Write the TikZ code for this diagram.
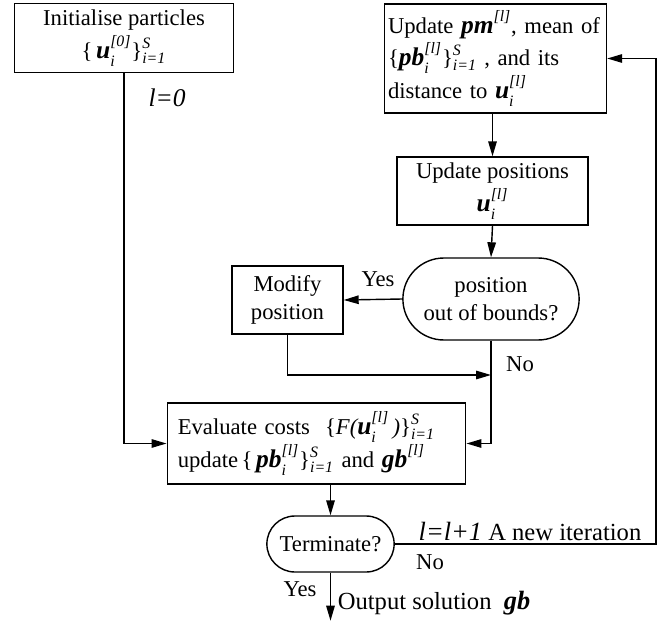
\documentclass[tikz,border=0pt]{standalone}
\usepackage{amsmath}
\usepackage{fontspec}
\setmainfont{Liberation Serif}
\usetikzlibrary{arrows.meta,shapes.misc}
\newcommand{\bv}[1]{\text{\fontsize{14.5}{15}\selectfont\bfseries\itshape #1\rule[-4pt]{0pt}{14pt}}}
\newcommand{\tv}[1]{\text{\itshape #1}}
\tikzset{
  procBox/.style={draw, line width=0.8pt, inner sep=2pt, align=center},
  roundBox/.style={draw, line width=0.8pt, rounded rectangle, align=center},
  flowArrow/.style={line width=0.8pt, -{Triangle[length=3mm,width=1.7mm]}},
  flowLine/.style={line width=0.8pt},
  bigLabel/.style={font=\fontsize{14}{16}\selectfont}
}

\begin{document}
\begin{tikzpicture}[x=0.02cm, y=-0.02cm, font=\fontsize{12.9}{16}\selectfont]
    \useasboundingbox (0,0) rectangle (661,621);
    % boxes
    \node[procBox, minimum width=4.38cm, minimum height=1.38cm] (initBox) at (124,38)
        {Initialise particles\\[3pt] $\text{\{}\,\bv{u}_{\tv{i}}^{\tv{[0]}}\text{\}}_{\tv{i=1}}^{\tv{S}}$};
    \node[procBox, align=left, text width=4.3cm, minimum height=2.18cm] (updMean) at (495.5,58.5)
        {Update $\bv{pm}^{\tv{[l]}}$, mean of\\ $\text{\{}\bv{pb}_{\tv{i}}^{\tv{[l]}}\text{\}}_{\tv{i=1}}^{\tv{S}}$ , and its\\ distance to $\bv{u}_{\tv{i}}^{\tv{[l]}}$};
    \node[procBox, minimum width=3.82cm, minimum height=1.36cm] (updPos) at (492.5,191)
        {Update positions\\[3pt] $\bv{u}_{\tv{i}}^{\tv{[l]}}$};
    \node[roundBox, minimum width=3.76cm, minimum height=1.64cm] (outBounds) at (491,299)
        {position\\ out of bounds?};
    \node[procBox, minimum width=2.22cm, minimum height=1.36cm] (modPos) at (287.5,300)
        {Modify\\ position};
    \node[procBox, align=left, text width=5.55cm, inner xsep=6pt, minimum height=1.62cm] (evalCost) at (316.5,443.5)
        {Evaluate costs~ $\text{\{}\tv{F(}\bv{u}_{\tv{i}}^{\tv{[l]}}\,\tv{)}\text{\}}_{\tv{i=1}}^{\tv{S}}$\\
         update$\,\text{\{}\,\bv{pb}_{\tv{i}}^{\tv{[l]}}\text{\}}_{\tv{i=1}}^{\tv{S}}$ and $\bv{gb}^{\tv{[l]}}$};
    \node[roundBox, minimum width=2.78cm, minimum height=1.12cm] (termCheck) at (330.5,544)
        {Terminate?};

    \coordinate (backLoop) at ([xshift=0.98cm]updMean.east);
    \coordinate (joinPt) at (outBounds.south |- 0,375);
    \coordinate (outSol) at ([yshift=-0.96cm]termCheck.south);

    % connectors
    \draw[flowArrow] (initBox.south) |- (evalCost.west);
    \draw[flowArrow] (updPos.north |- updMean.south) -- (updPos.north);
    \draw[flowArrow] (updPos.south) -- (outBounds.north);
    \draw[flowArrow] (outBounds.west) -- (modPos.east);
    \draw[flowArrow] (modPos.south) |- (joinPt);
    \draw[flowArrow] (outBounds.south) |- (evalCost.east);
    \draw[flowArrow] (termCheck.north |- evalCost.south) -- (termCheck.north);
    \draw[flowLine] (termCheck.east) -| (backLoop);
    \draw[flowArrow] (backLoop) -- (updMean.east);
    \draw[flowArrow] (termCheck.south) -- (outSol);

    % labels
    \node[font=\fontsize{14.5}{15}\selectfont\itshape] (lZero) at (167,98) {l=0};
    \node (yesMod) at (378,279) {Yes};
    \node (noEval) at (520,364) {No};
    \node[bigLabel] (newIter) at (530,531) {{\fontsize{15}{15}\selectfont\itshape l=l+1} A new iteration};
    \node (noTerm) at (430,562) {No};
    \node (yesOut) at (300,589) {Yes};
    \node[bigLabel] (outText) at (434,603) {Output solution~ {\fontsize{15}{15}\selectfont\bfseries\itshape gb}};
\end{tikzpicture}
\end{document}
